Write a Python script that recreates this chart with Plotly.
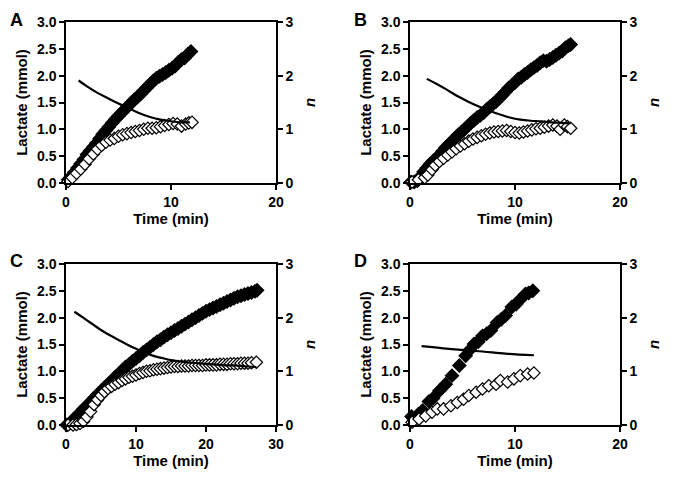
import plotly.graph_objects as go

# ---------------- Data ----------------
# Panel A
a_fill_t = [0.2,0.5,0.8,1.1,1.4,1.7,2.0,2.3,2.6,2.9,3.2,3.5,3.8,4.1,4.4,4.7,5.0,5.3,5.6,5.9,6.2,6.5,6.8,7.1,7.4,7.7,8.0,8.3,8.6,8.9,9.2,9.5,9.8,10.1,10.4,10.7,11.0,11.3,11.6,11.9]
a_fill_v = [0.06,0.12,0.20,0.28,0.36,0.44,0.53,0.60,0.67,0.74,0.83,0.91,0.98,1.05,1.12,1.19,1.25,1.31,1.37,1.43,1.49,1.55,1.60,1.66,1.72,1.78,1.84,1.90,1.95,1.99,2.02,2.06,2.10,2.14,2.18,2.25,2.30,2.33,2.40,2.45]
a_open_t = [0.2,0.6,1.0,1.4,1.8,2.2,2.6,3.0,3.4,3.8,4.2,4.6,5.0,5.4,5.8,6.2,6.6,7.0,7.4,7.8,8.2,8.6,9.0,9.4,9.8,10.2,10.6,11.0,11.4,11.7,12.0]
a_open_v = [0.03,0.10,0.18,0.26,0.35,0.45,0.54,0.63,0.70,0.76,0.80,0.83,0.87,0.90,0.92,0.94,0.96,0.98,1.00,1.02,1.02,1.03,1.05,1.07,1.09,1.11,1.10,1.06,1.10,1.12,1.13]
a_n_t = [1.2,2.0,3.0,4.0,5.0,6.0,7.0,8.0,9.0,10.0,11.0,11.8]
a_n_v = [1.91,1.80,1.68,1.58,1.48,1.39,1.30,1.23,1.18,1.15,1.13,1.13]

# Panel B
b_fill_t = [0.1,0.4,0.7,1.0,1.3,1.6,1.9,2.2,2.5,2.8,3.1,3.4,3.7,4.0,4.3,4.6,4.9,5.2,5.5,5.8,6.1,6.4,6.7,7.0,7.3,7.6,7.9,8.2,8.5,8.8,9.1,9.4,9.7,10.0,10.3,10.6,10.9,11.2,11.5,11.8,12.1,12.4,12.7,13.0,13.3,13.6,13.9,14.2,14.5,14.8,15.1,15.3]
b_fill_v = [0.02,0.02,0.04,0.12,0.21,0.28,0.35,0.41,0.45,0.52,0.59,0.66,0.72,0.78,0.84,0.90,0.95,1.00,1.06,1.12,1.17,1.22,1.26,1.31,1.37,1.42,1.47,1.52,1.58,1.64,1.70,1.77,1.82,1.87,1.94,1.97,2.02,2.06,2.11,2.15,2.19,2.24,2.28,2.27,2.30,2.34,2.38,2.42,2.46,2.52,2.56,2.58]
b_open_t = [0.2,0.8,1.4,1.7,2.1,2.4,2.8,3.2,3.6,4.0,4.4,4.8,5.2,5.6,6.0,6.4,6.8,7.2,7.6,8.0,8.4,8.8,9.2,9.6,10.0,10.4,10.8,11.2,11.6,12.0,12.4,12.8,13.2,13.6,14.0,14.3,14.7,15.0,15.3]
b_open_v = [0.02,0.06,0.10,0.15,0.25,0.33,0.40,0.46,0.52,0.58,0.64,0.69,0.73,0.78,0.82,0.85,0.88,0.91,0.93,0.95,0.96,0.97,0.98,0.96,0.94,0.93,0.95,0.97,0.99,1.01,1.02,1.04,1.06,1.08,1.06,1.00,1.08,1.05,1.02]
b_n_t = [1.6,2.5,3.5,4.5,5.5,6.5,7.5,8.5,9.5,10.5,11.5,12.5,13.5,14.5,15.3]
b_n_v = [1.94,1.85,1.74,1.62,1.52,1.43,1.35,1.28,1.22,1.18,1.16,1.15,1.13,1.12,1.11]

# Panel C
c_fill_t = [0.1,0.5,1.0,1.5,2.0,2.5,3.0,3.5,4.0,4.5,5.0,5.5,6.0,6.5,7.0,7.5,8.0,8.5,9.0,9.5,10.0,10.5,11.0,11.5,12.0,12.5,13.0,13.5,14.0,14.5,15.0,15.5,16.0,16.5,17.0,17.5,18.0,18.5,19.0,19.5,20.0,20.5,21.0,21.5,22.0,22.5,23.0,23.5,24.0,24.5,25.0,25.5,26.0,26.5,27.0,27.3]
c_fill_v = [0.00,0.03,0.10,0.16,0.23,0.30,0.36,0.43,0.50,0.57,0.63,0.70,0.76,0.82,0.89,0.95,1.01,1.08,1.13,1.19,1.24,1.29,1.35,1.40,1.45,1.50,1.55,1.59,1.64,1.68,1.72,1.76,1.80,1.84,1.88,1.92,1.96,2.00,2.04,2.08,2.12,2.15,2.18,2.21,2.24,2.27,2.30,2.33,2.36,2.39,2.41,2.43,2.45,2.47,2.49,2.51]
c_open_t = [0.3,1.0,1.5,2.0,2.5,3.0,3.5,4.0,4.5,5.0,5.5,6.0,6.5,7.0,7.5,8.0,8.5,9.0,9.5,10.0,10.5,11.0,11.5,12.0,12.5,13.0,13.5,14.0,14.5,15.0,15.5,16.0,16.5,17.0,17.5,18.0,18.5,19.0,19.5,20.0,20.5,21.0,21.5,22.0,22.5,23.0,23.5,24.0,24.5,25.0,25.5,26.0,26.5,27.2]
c_open_v = [0.00,0.00,0.01,0.03,0.07,0.15,0.25,0.38,0.47,0.55,0.62,0.68,0.72,0.76,0.79,0.83,0.86,0.89,0.91,0.93,0.96,0.98,1.00,1.01,1.03,1.04,1.05,1.06,1.07,1.08,1.09,1.09,1.10,1.10,1.10,1.11,1.11,1.11,1.11,1.12,1.12,1.12,1.12,1.13,1.13,1.13,1.14,1.14,1.14,1.15,1.15,1.15,1.16,1.17]
c_n_t = [1.2,2.0,3.0,4.0,5.0,6.0,7.0,8.0,9.0,10.0,11.0,12.0,13.0,14.0,15.0,16.0,17.0,18.0,19.0,20.0,21.0,22.0,23.0,24.0,25.0,26.0,27.2]
c_n_v = [2.11,2.04,1.95,1.86,1.77,1.69,1.62,1.55,1.48,1.42,1.36,1.31,1.27,1.24,1.21,1.19,1.17,1.16,1.15,1.14,1.13,1.12,1.11,1.11,1.10,1.09,1.08]

# Panel D
d_fill_t = [0.15,0.4,0.8,1.2,1.8,2.2,2.8,3.4,4.0,4.7,5.3,5.7,6.1,6.5,6.9,7.3,7.7,8.3,8.7,9.1,9.7,10.1,10.4,11.0,11.3,11.7]
d_fill_v = [0.16,0.11,0.20,0.27,0.44,0.50,0.64,0.76,0.92,1.11,1.29,1.40,1.51,1.55,1.66,1.70,1.76,1.91,1.97,2.04,2.20,2.25,2.32,2.44,2.46,2.50]
d_open_t = [0.2,0.86,1.5,2.1,2.6,3.2,3.9,4.5,5.1,5.6,6.3,6.9,7.5,8.2,8.6,9.3,9.9,10.5,11.2,11.8]
d_open_v = [0.05,0.11,0.17,0.24,0.30,0.30,0.36,0.42,0.48,0.55,0.61,0.67,0.73,0.76,0.83,0.80,0.86,0.92,0.95,0.97]
d_n_t = [1.1,3.7,6.9,9.1,11.8]
d_n_v = [1.47,1.42,1.37,1.33,1.30]

panel_labels = ["A", "B", "C", "D"]
x_title = "Time (min)"
y_title = "Lactate (mmol)"
y2_title = "<i>n</i>"

# ---------------- Figure ----------------
W, H = 692, 477
OFF = 8  # default page body margin in the written html
FONT = "Liberation Sans"

# positions given in page pixels
panels = [
    dict(ft=a_fill_t, fv=a_fill_v, ot=a_open_t, ov=a_open_v, nt=a_n_t, nv=a_n_v, xmax=20, px=(66, 276), py=(22, 183), lab=(8, 8)),
    dict(ft=b_fill_t, fv=b_fill_v, ot=b_open_t, ov=b_open_v, nt=b_n_t, nv=b_n_v, xmax=20, px=(410, 620), py=(22, 183), lab=(352, 8)),
    dict(ft=c_fill_t, fv=c_fill_v, ot=c_open_t, ov=c_open_v, nt=c_n_t, nv=c_n_v, xmax=30, px=(66, 276), py=(264, 425), lab=(8, 249)),
    dict(ft=d_fill_t, fv=d_fill_v, ot=d_open_t, ov=d_open_v, nt=d_n_t, nv=d_n_v, xmax=20, px=(410, 620), py=(264, 425), lab=(352, 249)),
]

def fx(px):
    return (px - OFF) / W

def fy(py):
    return 1 - (py - OFF) / H

fig = go.Figure()
layout = dict(
    width=W, height=H, margin=dict(l=0, r=0, t=0, b=0, autoexpand=False),
    paper_bgcolor="white", plot_bgcolor="white", showlegend=False,
    font=dict(family=FONT, color="black"),
)
annotations = []

tickfont = dict(family=FONT, size=14, color="black", weight="bold")
titlefont = dict(family=FONT, size=15, color="black", weight="bold")
axis_common = dict(showline=True, linecolor="black", linewidth=1.5, ticks="outside",
                   ticklen=5, tickwidth=1.5, tickcolor="black", showgrid=False,
                   zeroline=False, tickfont=tickfont, automargin=False)

for i, p in enumerate(panels):
    xi = i + 1
    yl = 2 * i + 1
    yr = 2 * i + 2
    xname = "x" if xi == 1 else f"x{xi}"
    ylname = "y" if yl == 1 else f"y{yl}"
    yrname = f"y{yr}"
    xdom = [fx(p["px"][0]), fx(p["px"][1])]
    ydom = [fy(p["py"][1]), fy(p["py"][0])]

    fig.add_trace(go.Scatter(x=p["ft"], y=p["fv"], mode="markers", xaxis=xname, yaxis=ylname,
                             marker=dict(symbol="diamond", size=11.5, color="black",
                                         line=dict(color="black", width=0)), cliponaxis=False))
    fig.add_trace(go.Scatter(x=p["ot"], y=p["ov"], mode="markers", xaxis=xname, yaxis=ylname,
                             marker=dict(symbol="diamond", size=9.5, color="white",
                                         line=dict(color="black", width=1.2)), cliponaxis=False))
    fig.add_trace(go.Scatter(x=p["nt"], y=p["nv"], mode="lines", xaxis=xname, yaxis=yrname,
                             line=dict(color="black", width=2.2, shape="spline")))

    xkey = "xaxis" if xi == 1 else f"xaxis{xi}"
    ylkey = "yaxis" if yl == 1 else f"yaxis{yl}"
    yrkey = f"yaxis{yr}"
    layout[xkey] = dict(axis_common, domain=xdom, anchor=ylname, range=[0, p["xmax"]],
                        dtick=10, tick0=0, mirror=True,
                        title=dict(text=x_title, font=titlefont, standoff=2))
    layout[ylkey] = dict(axis_common, domain=ydom, anchor=xname, range=[0, 3],
                         dtick=0.5, tick0=0, tickformat=".1f",
                         title=dict(text=y_title, font=titlefont, standoff=6))
    layout[yrkey] = dict(axis_common, domain=ydom, anchor=xname, overlaying=ylname,
                         side="right", range=[0, 3], dtick=1, tick0=0,
                         title=dict(text=y2_title, font=titlefont, standoff=12))
    annotations.append(dict(text=panel_labels[i], x=fx(p["lab"][0]), y=fy(p["lab"][1]),
                            xref="paper", yref="paper", xanchor="left", yanchor="top",
                            showarrow=False, font=dict(family=FONT, size=18, color="black", weight="bold")))

layout["annotations"] = annotations
fig.update_layout(**layout)
fig.write_html("out.html")
